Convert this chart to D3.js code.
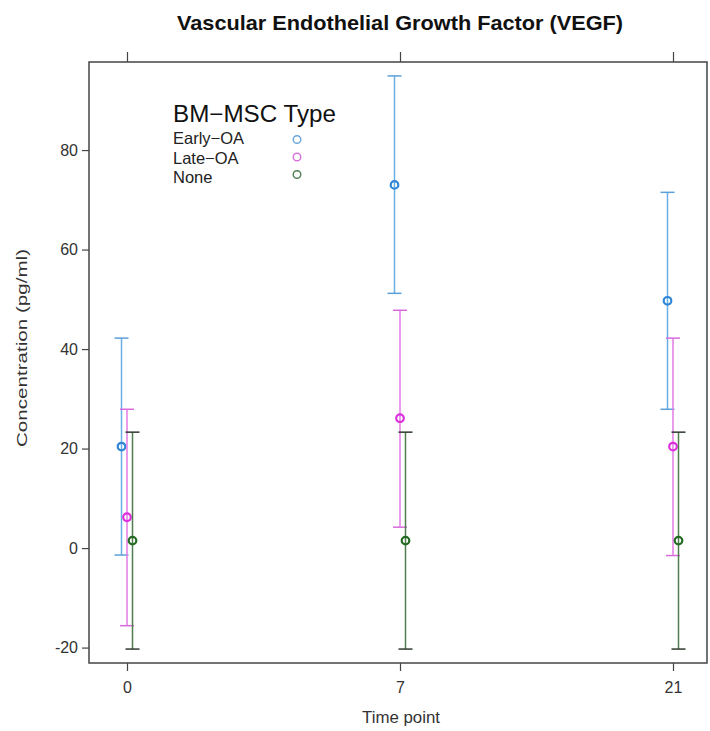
<!DOCTYPE html>
<html>
<head>
<meta charset="utf-8">
<script src="https://cdn.jsdelivr.net/npm/d3@7"></script>
<style>
  body { margin: 0; background: #fff; }
  text { font-family: "Liberation Sans", Arial, sans-serif; }
</style>
</head>
<body>
<div id="chart"></div>
<script>
// data
let timePoints = ['0', '7', '21'];
let groups = ['Early-OA', 'Late-OA', 'None'];
let meanEarly = [20.4, 73.0, 49.7];
let lowEarly = [-1.4, 51.2, 27.9];
let highEarly = [42.2, 94.9, 71.5];
let meanLate = [6.2, 26.1, 20.4];
let lowLate = [-15.6, 4.2, -1.5];
let highLate = [27.9, 47.8, 42.2];
let meanNone = [1.5, 1.5, 1.5];
let lowNone = [-20.3, -20.3, -20.3];
let highNone = [23.3, 23.3, 23.3];
let yTicks = [-20, 0, 20, 40, 60, 80];

let width = 710, height = 731;
let panelL = 89, panelR = 707, panelT = 62, panelB = 663;

let pointColors = ['#2f86d6', '#dd2fdd', '#236b23'];
let barColors = ['#6aaee6', '#e27ae6', '#4f7d4f'];
let capColors = ['#5d9fd8', '#d96bdc', '#2e3a2e'];
let legendColors = ['#6aa6dc', '#d872dc', '#4f7f4f'];
let offsets = [-5.5, 0, 5.5];
let narrow = '"Liberation Sans Narrow", "Liberation Sans", Arial, sans-serif';

let series = [
  { mean: meanEarly, low: lowEarly, high: highEarly },
  { mean: meanLate, low: lowLate, high: highLate },
  { mean: meanNone, low: lowNone, high: highNone }
];

let svg = d3.select('#chart').append('svg')
  .attr('width', width).attr('height', height);

let x = d3.scalePoint().domain(timePoints).range([127, 673]);
let y = d3.scaleLinear().domain([-23.1, 97.7]).range([panelB, panelT]);

// title
svg.append('text')
  .attr('x', 177).attr('y', 30)
  .attr('textLength', 446).attr('lengthAdjust', 'spacingAndGlyphs')
  .style('font-weight', 'bold')
  .style('font-size', '21px')
  .style('fill', '#111')
  .text('Vascular Endothelial Growth Factor (VEGF)');

// axes
let axisColor = '#444';
let gl = svg.append('g').attr('transform', `translate(${panelL},0)`)
  .call(d3.axisLeft(y).tickValues(yTicks).tickSize(7).tickPadding(4).tickFormat((d) => String(d)));
let gb = svg.append('g').attr('transform', `translate(0,${panelB})`)
  .call(d3.axisBottom(x).tickSize(8).tickPadding(11));
let gt = svg.append('g').attr('transform', `translate(0,${panelT})`)
  .call(d3.axisTop(x).tickSize(10).tickFormat(''));
[gl, gb, gt].forEach((g) => {
  g.select('.domain').remove();
  g.selectAll('line').attr('stroke', axisColor).attr('stroke-width', 1.2);
  g.selectAll('text').style('font-size', '16px').style('fill', '#333')
    .style('font-family', narrow);
});

// panel frame
svg.append('rect')
  .attr('x', panelL).attr('y', panelT)
  .attr('width', panelR - panelL).attr('height', panelB - panelT)
  .attr('fill', 'none').attr('stroke', axisColor).attr('stroke-width', 1.5);

// axis titles
svg.append('text')
  .attr('transform', `translate(27,${348}) rotate(-90)`)
  .attr('text-anchor', 'middle')
  .attr('textLength', 198).attr('lengthAdjust', 'spacingAndGlyphs')
  .style('font-size', '14.5px').style('fill', '#333')
  .text('Concentration (pg/ml)');
svg.append('text')
  .attr('x', 401).attr('y', 723)
  .attr('text-anchor', 'middle')
  .attr('textLength', 78).attr('lengthAdjust', 'spacingAndGlyphs')
  .style('font-size', '16px').style('fill', '#333')
  .style('font-family', narrow)
  .text('Time point');

// error bars and points
series.forEach((s, i) => {
  let g = svg.append('g');
  let cx = (d, j) => x(timePoints[j]) + offsets[i];
  g.selectAll('.bar').data(s.mean).enter().append('line')
    .attr('x1', cx).attr('x2', cx)
    .attr('y1', (d, j) => y(s.low[j])).attr('y2', (d, j) => y(s.high[j]))
    .attr('stroke', barColors[i]).attr('stroke-width', 1.5);
  ['low', 'high'].forEach((k) => {
    g.selectAll('.cap-' + k).data(s[k]).enter().append('line')
      .attr('x1', (d, j) => cx(d, j) - 7).attr('x2', (d, j) => cx(d, j) + 7)
      .attr('y1', (d) => y(d)).attr('y2', (d) => y(d))
      .attr('stroke', capColors[i]).attr('stroke-width', 1.5);
  });
  g.selectAll('circle').data(s.mean).enter().append('circle')
    .attr('cx', cx).attr('cy', (d) => y(d)).attr('r', 3.8)
    .attr('fill', 'none').attr('stroke', pointColors[i]).attr('stroke-width', 2.2);
});

// legend
let leg = svg.append('g');
leg.append('text').attr('x', 173).attr('y', 122)
  .attr('textLength', 163).attr('lengthAdjust', 'spacingAndGlyphs')
  .style('font-size', '23px').style('fill', '#111').text('BM\u2212MSC Type');
groups.forEach((name, i) => {
  leg.append('text').attr('x', 173).attr('y', 144 + i * 19.5)
    .style('font-size', '16.5px').style('fill', '#222')
    .text(name.replace('-', '\u2212'));
  leg.append('circle').attr('cx', 297).attr('cy', 139.5 + i * 17.5).attr('r', 3.8)
    .attr('fill', 'none').attr('stroke', legendColors[i]).attr('stroke-width', 1.4);
});
</script>
</body>
</html>
